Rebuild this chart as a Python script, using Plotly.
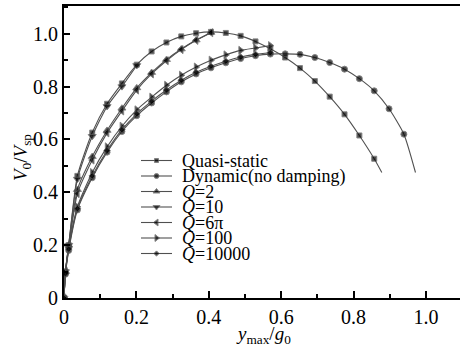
import plotly.graph_objects as go

# ---------------- data ----------------
x_qs = [0, 0.004, 0.013, 0.037, 0.078, 0.119, 0.160, 0.201, 0.242, 0.283, 0.324, 0.365, 0.406,
        0.447, 0.488, 0.529, 0.570, 0.611, 0.652, 0.693, 0.734, 0.775, 0.816, 0.857, 0.878]
y_qs = [0, 0.10, 0.20, 0.462, 0.626, 0.735, 0.812, 0.883, 0.933, 0.967, 0.990, 1.002, 1.007,
        1.003, 0.992, 0.971, 0.943, 0.910, 0.870, 0.821, 0.762, 0.695, 0.615, 0.527, 0.475]

x_dyn = [0, 0.004, 0.013, 0.037, 0.078, 0.119, 0.160, 0.201, 0.242, 0.283, 0.324, 0.365, 0.406,
         0.447, 0.488, 0.529, 0.570, 0.611, 0.652, 0.693, 0.734, 0.775, 0.816, 0.857, 0.898,
         0.939, 0.971]
y_dyn = [0, 0.09, 0.18, 0.333, 0.455, 0.552, 0.630, 0.690, 0.738, 0.780, 0.818, 0.848, 0.871,
         0.890, 0.906, 0.917, 0.923, 0.924, 0.922, 0.910, 0.891, 0.866, 0.830, 0.784, 0.716,
         0.620, 0.475]

x_q2 = [0, 0.004, 0.013, 0.037, 0.078, 0.119, 0.160, 0.201, 0.242, 0.283, 0.324, 0.365, 0.406]
y_q2 = [0, 0.10, 0.20, 0.410, 0.535, 0.634, 0.718, 0.795, 0.853, 0.902, 0.942, 0.976, 1.005]

x_q10 = [0, 0.004, 0.013, 0.037, 0.078, 0.119, 0.160, 0.201]
y_q10 = [0, 0.10, 0.20, 0.450, 0.612, 0.725, 0.800, 0.880]

x_q6pi = [0, 0.004, 0.013, 0.037, 0.078, 0.119, 0.160, 0.201, 0.242, 0.283, 0.324, 0.365, 0.406]
y_q6pi = [0, 0.10, 0.19, 0.395, 0.522, 0.625, 0.708, 0.787, 0.848, 0.898, 0.940, 0.975, 1.004]

x_q100 = [0, 0.004, 0.013, 0.037, 0.078, 0.119, 0.160, 0.201, 0.242, 0.283, 0.324, 0.365,
          0.406, 0.447, 0.488, 0.529, 0.570]
y_q100 = [0, 0.095, 0.19, 0.345, 0.475, 0.572, 0.650, 0.712, 0.760, 0.805, 0.843, 0.874,
          0.900, 0.920, 0.937, 0.946, 0.955]

x_q1e4 = [0, 0.004, 0.013, 0.037, 0.078, 0.119, 0.160, 0.201, 0.242, 0.283, 0.324, 0.365,
          0.406, 0.447, 0.488, 0.529, 0.570]
y_q1e4 = [0, 0.092, 0.185, 0.338, 0.462, 0.558, 0.637, 0.697, 0.745, 0.787, 0.824, 0.854,
          0.877, 0.896, 0.912, 0.922, 0.928]

series_names = ["Quasi-static", "Dynamic(no damping)", "<i>Q</i>=2", "<i>Q</i>=10",
                "<i>Q</i>=6π", "<i>Q</i>=100", "<i>Q</i>=10000"]

x_ticks = [0, 0.2, 0.4, 0.6, 0.8, 1.0]
x_ticklabels = ["0", "0.2", "0.4", "0.6", "0.8", "1.0"]
y_ticks = [0, 0.2, 0.4, 0.6, 0.8, 1.0]
y_ticklabels = ["0", "0.2", "0.4", "0.6", "0.8", "1.0"]

# ---------------- styling ----------------
FONT = "Liberation Serif, Times New Roman, serif"
LINE_C = "#505050"
# plot area in pixels
L, R, T, B = 64, 460, 6, 298


def px_to_paper(px, py):
    return (px - L) / (R - L), (B - py) / (B - T)


series = [
    (x_qs, y_qs, "square", 5, True),
    (x_dyn, y_dyn, "circle", 6, True),
    (x_q2, y_q2, "triangle-up", 7, False),
    (x_q10, y_q10, "triangle-down", 7, False),
    (x_q6pi, y_q6pi, "triangle-left", 7, False),
    (x_q100, y_q100, "triangle-right", 7, False),
    (x_q1e4, y_q1e4, "diamond", 5, False),
]

fig = go.Figure()
for (xs, ys, sym, sz, hide_end), name in zip(series, series_names):
    sizes = [sz] * len(xs)
    if hide_end:
        sizes[-1] = 0
    fig.add_trace(go.Scatter(
        x=xs, y=ys, mode="lines+markers", name=name, showlegend=False,
        line=dict(color=LINE_C, width=1.1, shape="spline", smoothing=0.6),
        marker=dict(symbol=sym, size=sizes, color="black"),
    ))

# custom compact legend drawn on an overlay axis measured in pixels
leg_y0, leg_dy = 160.5, 15.5
for i, ((xs, ys, sym, sz, _), name) in enumerate(zip(series, series_names)):
    yy = leg_y0 + i * leg_dy
    fig.add_trace(go.Scatter(
        x=[141, 156.5, 172], y=[yy, yy, yy], xaxis="x2", yaxis="y2",
        mode="lines+markers", showlegend=False, hoverinfo="skip",
        line=dict(color=LINE_C, width=1.1),
        marker=dict(symbol=sym, size=[0, sz - 1, 0], color="black"),
    ))
    fig.add_annotation(x=180, y=yy, xref="x2", yref="y2", text=name, showarrow=False,
                       xanchor="left", yanchor="middle",
                       font=dict(family=FONT, size=18, color="black"))

# axis titles (paper coordinates)
ax, ay = px_to_paper(22, 158)
fig.add_annotation(x=ax, y=ay, xref="paper", yref="paper", textangle=-90, showarrow=False,
                   xanchor="center", yanchor="middle",
                   text="<i>V</i><sub>0</sub>/<i>V</i><sub>sp</sub>",
                   font=dict(family=FONT, size=19, color="black"))
bx, by = px_to_paper(263, 335)
fig.add_annotation(x=bx, y=by, xref="paper", yref="paper", showarrow=False,
                   xanchor="center", yanchor="middle",
                   text="<i>y</i><sub>max</sub>/<i>g</i><sub>0</sub>",
                   font=dict(family=FONT, size=19, color="black"))

fig.update_layout(
    width=460, height=354,
    margin=dict(l=L, r=460 - R, t=T, b=354 - B),
    paper_bgcolor="white", plot_bgcolor="white",
    font=dict(family=FONT, size=20, color="black"),
    xaxis=dict(range=[0, 1.094], tickvals=x_ticks, ticktext=x_ticklabels,
               ticks="inside", ticklen=7, tickwidth=1.5, tickcolor="black",
               minor=dict(dtick=0.1, ticks="inside", ticklen=4, tickwidth=1.5, tickcolor="black"),
               showline=True, linewidth=2, linecolor="black", mirror=True,
               showgrid=False, zeroline=False, tickfont=dict(size=20)),
    yaxis=dict(range=[0, 1.105], tickvals=y_ticks, ticktext=y_ticklabels,
               ticks="inside", ticklen=6, tickwidth=1.5, tickcolor="black",
               minor=dict(dtick=0.1, ticks="inside", ticklen=4, tickwidth=1.5, tickcolor="black"),
               showline=True, linewidth=2, linecolor="black",
               showgrid=False, zeroline=False, tickfont=dict(size=20)),
    xaxis2=dict(range=[L, R], overlaying="x", visible=False),
    yaxis2=dict(range=[B, T], overlaying="y", visible=False),
)

fig.write_html("out.html", config={"displayModeBar": False},
               post_script="document.body.style.margin='0';")
